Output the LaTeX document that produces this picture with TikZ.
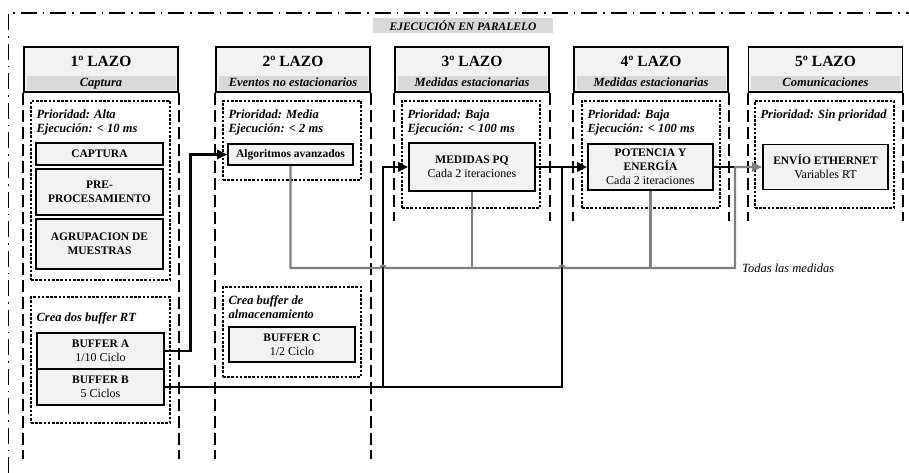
\documentclass[tikz,border=0pt]{standalone}
\usepackage{fontspec}
\setmainfont{Liberation Serif}
\usepackage{tikz}
\usetikzlibrary{arrows.meta,calc,positioning}
\definecolor{cabgray}{RGB}{242,242,242}
\definecolor{bandgray}{RGB}{217,217,217}
\definecolor{busgray}{RGB}{128,128,128}
\newcommand{\reg}[1]{{\normalfont\fontsize{12}{14}\selectfont #1}}

\begin{document}
\begin{tikzpicture}[
    x=1pt, y=-1pt,
    marco/.style={line width=1.6pt, dash pattern=on 16pt off 6pt on 1.5pt off 6pt},
    titulo/.style={fill=bandgray, minimum width=180pt, minimum height=15pt, inner sep=0pt, font=\fontsize{11.5}{13}\selectfont\bfseries\itshape},
    lazo/.style={draw, line width=1.6pt, fill=cabgray, minimum width=154pt, minimum height=45pt, inner sep=0pt},
    lazotit/.style={inner sep=0pt, font=\fontsize{15.5}{18}\selectfont\bfseries},
    banda/.style={fill=bandgray, minimum width=149pt, minimum height=14pt, inner sep=0pt, text height=9pt, text depth=2.5pt, font=\fontsize{12.5}{14}\selectfont\bfseries\itshape},
    carril/.style={line width=1.8pt, dash pattern=on 12pt off 5pt},
    zona/.style={draw, line width=1.3pt, dash pattern=on 2.6pt off 1.6pt, inner sep=0pt},
    nota/.style={align=left, inner sep=0pt, font=\fontsize{12.5}{13.8}\selectfont\bfseries\itshape},
    caja/.style={draw, line width=1.6pt, fill=cabgray, align=center, inner sep=0pt, font=\fontsize{11.5}{14}\selectfont\bfseries},
    linea/.style={line width=2.8pt},
    flecha/.style={linea, -{Triangle[length=10pt,width=9pt]}},
    bus/.style={draw=busgray, line width=2.4pt}
  ]
    \useasboundingbox (0,0) rectangle (909,473);

    % marco de ejecucion en paralelo
    \draw[marco] (8.5,473) -- (8.5,13) -- (909,13);
    \node[titulo] (par) at (463,25.5) {EJECUCIÓN EN PARALELO};

    % cabeceras de los lazos
    \node[lazo] (l1) at (101,69.5) {};
    \node[lazotit] (t1) at (101,61) {1º LAZO};
    \node[banda] (b1) at (101,83) {Captura};
    \node[lazo] (l2) at (293,69.5) {};
    \node[lazotit] (t2) at (293,61) {2º LAZO};
    \node[banda] (b2) at (293,83) {Eventos no estacionarios};
    \node[lazo] (l3) at (472,69.5) {};
    \node[lazotit] (t3) at (472,61) {3º LAZO};
    \node[banda] (b3) at (472,83) {Medidas estacionarias};
    \node[lazo] (l4) at (651,69.5) {};
    \node[lazotit] (t4) at (651,61) {4º LAZO};
    \node[banda] (b4) at (651,83) {Medidas estacionarias};
    \node[lazo] (l5) at (825.5,69.5) {};
    \node[lazotit] (t5) at (825.5,61) {5º LAZO};
    \node[banda] (b5) at (825.5,83) {Comunicaciones};

    % carriles
    \draw[carril] (l1.south west) -- ++(0,366);
    \draw[carril] (l1.south east) -- ++(0,366);
    \draw[carril] (l2.south west) -- ++(0,366);
    \draw[carril] (l2.south east) -- ++(0,366);
    \draw[carril] (l3.south west) -- ++(0,128);
    \draw[carril] (l3.south east) -- ++(0,128);
    \draw[carril] (l4.south west) -- ++(0,128);
    \draw[carril] (l4.south east) -- ++(0,128);
    \draw[carril] (l5.south west) -- ++(0,128);
    \draw[carril] (l5.south east) -- ++(0,128);

    % zonas punteadas
    \node[zona, minimum width=139pt, minimum height=179pt] (z1) at (100.5,190.5) {};
    \node[zona, minimum width=139pt, minimum height=126pt] (z1b) at (100.5,360) {};
    \node[zona, minimum width=138pt, minimum height=79pt] (z2) at (292,140.5) {};
    \node[zona, minimum width=138pt, minimum height=90pt] (z2b) at (292,332) {};
    \node[zona, minimum width=138pt, minimum height=107pt] (z3) at (471,154.5) {};
    \node[zona, minimum width=138pt, minimum height=107pt] (z4) at (651,154.5) {};
    \node[zona, minimum width=139pt, minimum height=107pt] (z5) at (824.5,154.5) {};

    \node[nota, below right=9.5pt and 6pt of z1.north west] (n1) {Prioridad: Alta\\Ejecución: < 10 ms};
    \node[nota, below right=16.5pt and 6pt of z1b.north west] (n1b) {Crea dos buffer RT};
    \node[nota, below right=9.5pt and 6pt of z2.north west] (n2) {Prioridad: Media\\Ejecución: < 2 ms};
    \node[nota, below right=9.5pt and 6pt of z2b.north west] (n2b) {Crea buffer de\\almacenamiento};
    \node[nota, below right=9.5pt and 6pt of z3.north west] (n3) {Prioridad: Baja\\Ejecución: < 100 ms};
    \node[nota, below right=9.5pt and 6pt of z4.north west] (n4) {Prioridad: Baja\\Ejecución: < 100 ms};
    \node[nota, below right=9.5pt and 6pt of z5.north west] (n5) {Prioridad: Sin prioridad};

    % tareas
    \node[caja, minimum width=127pt, minimum height=22pt] (cap) at (99.5,154) {CAPTURA};
    \node[caja, minimum width=127pt, minimum height=46pt] (pre) at (99.5,192) {PRE-\\PROCESAMIENTO};
    \node[caja, minimum width=127pt, minimum height=50pt] (agr) at (99.5,244) {AGRUPACION DE\\MUESTRAS};
    \node[caja, minimum width=127pt, minimum height=36pt] (bufa) at (100.5,351) {BUFFER A\\\reg{1/10 Ciclo}};
    \node[caja, minimum width=127pt, minimum height=36pt] (bufb) at (100.5,387) {BUFFER B\\\reg{5 Ciclos}};
    \node[caja, minimum width=125pt, minimum height=21pt] (algo) at (290.5,154.5) {Algoritmos avanzados};
    \node[caja, minimum width=126pt, minimum height=35pt] (bufc) at (292,344.5) {BUFFER C\\\reg{1/2 Ciclo}};
    \node[caja, minimum width=126pt, minimum height=48pt] (medpq) at (472,167) {MEDIDAS PQ\\\reg{Cada 2 iteraciones}};
    \node[caja, minimum width=125pt, minimum height=46pt] (pot) at (650.5,167) {POTENCIA Y\\ENERGÍA\\\reg{Cada 2 iteraciones}};
    \node[caja, minimum width=125pt, minimum height=45pt] (envio) at (825.5,167) {ENVÍO ETHERNET\\\reg{Variables RT}};

    % buffers hacia los lazos 2, 3 y 4
    \coordinate (ramal) at (383,387);
    \coordinate (sube) at (562,167);
    \draw[flecha] (bufa.east) -- ++(26,0) |- (algo.west);
    \draw[linea] (bufb.east) -| (sube);
    \draw[flecha] (ramal) |- (medpq.west);
    \draw[flecha] (medpq.east) -- (pot.west);

    % todas las medidas hacia el lazo 5
    \coordinate (esq) at (735,268);
    \coordinate (union) at (735,167);
    \draw[linea] (pot.east) -- (union);
    \draw[bus, -{Triangle[length=10pt,width=9pt]}] (algo.south) |- ($(ramal |- esq)+(-2.5,0)$)
      .. controls +(0,-3) and +(0,-3) .. ($(ramal |- esq)+(2.5,0)$)
      -- ($(sube |- esq)+(-2.5,0)$)
      .. controls +(0,-3) and +(0,-3) .. ($(sube |- esq)+(2.5,0)$)
      -- (esq) -- (union) -- (envio.west);
    \draw[bus] (medpq.south) -- (medpq.south |- esq);
    \draw[bus] (pot.south) -- (pot.south |- esq);
    \node[right=7pt of esq, inner sep=0pt, font=\fontsize{12.5}{14}\selectfont\itshape] (todas) {Todas las medidas};
  \end{tikzpicture}
\end{document}
